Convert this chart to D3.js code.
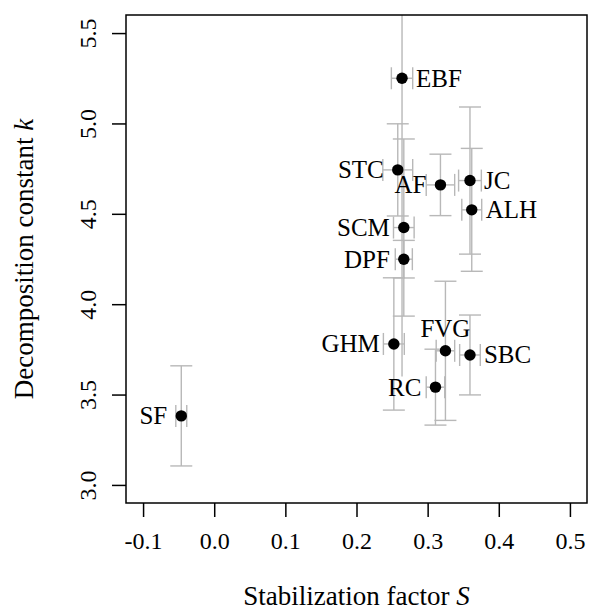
<!DOCTYPE html>
<html>
<head>
<meta charset="utf-8">
<script src="https://cdn.jsdelivr.net/npm/d3@7"></script>
<style>
  body { margin: 0; background: #fff; }
  svg text { font-family: "Liberation Serif", "Times New Roman", serif; fill: #000; }
</style>
</head>
<body>
<svg id="chart" width="589" height="610"></svg>
<script>
// site codes, stabilization factor S, decomposition constant k and their errors
const sites = ['EBF', 'STC', 'AF', 'JC', 'ALH', 'SCM', 'DPF', 'GHM', 'FVG', 'SBC', 'RC', 'SF'];
const sVals = [0.264, 0.258, 0.318, 0.3595, 0.362, 0.2665, 0.2665, 0.2525, 0.325, 0.3595, 0.311, -0.0463];
const sErr  = [0.015, 0.021, 0.020, 0.016, 0.014, 0.0145, 0.012, 0.0147, 0.013, 0.0145, 0.013, 0.0077];
const kVals = [5.25, 4.743, 4.66, 4.684, 4.522, 4.424, 4.249, 3.78, 3.742, 3.719, 3.541, 3.382];
const kErr  = [1.65, 0.255, 0.17, 0.407, 0.34, 0.49, 0.104, 0.366, 0.385, 0.221, 0.21, 0.277];
const labelPos = ['right', 'left', 'left', 'right', 'right', 'left', 'left', 'left', 'top', 'right', 'left', 'left'];

const xTicks = [-0.1, 0.0, 0.1, 0.2, 0.3, 0.4, 0.5];
const yTicks = [3.0, 3.5, 4.0, 4.5, 5.0, 5.5];

const margin = {top: 15, right: 2, bottom: 107, left: 126};
const W = 589, H = 610;
const width = W - margin.left - margin.right;
const height = H - margin.top - margin.bottom;

const grey = '#b8b8b8';
const capHalf = 11;

const svg = d3.select('#chart');
const g = svg.append('g')
  .attr('transform', 'translate(' + margin.left + ',' + margin.top + ')');

// R style 4% extension of the limits
const x = d3.scaleLinear().domain([-0.124, 0.524]).range([0, width]);
const y = d3.scaleLinear().domain([2.9, 5.6]).range([height, 0]);

const data = sites.map(function(s, i) {
  return {name: s, s: sVals[i], se: sErr[i], k: kVals[i], ke: kErr[i], pos: labelPos[i]};
});

g.append('clipPath').attr('id', 'plotclip')
  .append('rect').attr('width', width).attr('height', height);

const bars = g.append('g').attr('clip-path', 'url(#plotclip)')
  .attr('stroke', grey).attr('stroke-width', 1.4).attr('fill', 'none');

const [y0, y1] = y.domain();

data.forEach(function(d) {
  const cx = x(d.s), cy = y(d.k);
  const top = d.k + d.ke, bot = d.k - d.ke;
  // vertical error bar
  bars.append('line').attr('x1', cx).attr('x2', cx).attr('y1', y(top)).attr('y2', y(bot));
  if (top <= y1 && bot >= y0) {
    [top, bot].forEach(function(v) {
      bars.append('line').attr('x1', cx - capHalf).attr('x2', cx + capHalf)
        .attr('y1', y(v)).attr('y2', y(v));
    });
  }
  // horizontal error bar
  const l = x(d.s - d.se), r = x(d.s + d.se);
  bars.append('line').attr('x1', l).attr('x2', r).attr('y1', cy).attr('y2', cy);
  [l, r].forEach(function(v) {
    bars.append('line').attr('x1', v).attr('x2', v)
      .attr('y1', cy - capHalf).attr('y2', cy + capHalf);
  });
});

// points
g.selectAll('circle.pt')
  .data(data)
  .enter().append('circle')
  .attr('class', 'pt')
  .attr('cx', function(d) { return x(d.s); })
  .attr('cy', function(d) { return y(d.k); })
  .attr('r', 5.7)
  .attr('fill', '#000');

// labels
const off = 14;
g.selectAll('text.lab')
  .data(data)
  .enter().append('text')
  .attr('class', 'lab')
  .style('font-size', '25px')
  .attr('x', function(d) {
    if (d.pos === 'right') return x(d.s) + off;
    if (d.pos === 'left') return x(d.s) - off;
    return x(d.s);
  })
  .attr('y', function(d) { return d.pos === 'top' ? y(d.k) - off : y(d.k); })
  .attr('dy', function(d) { return d.pos === 'top' ? '0em' : '0.34em'; })
  .attr('text-anchor', function(d) {
    return d.pos === 'right' ? 'start' : (d.pos === 'left' ? 'end' : 'middle');
  })
  .text(function(d) { return d.name; });

// box
g.append('rect')
  .attr('width', width).attr('height', height)
  .attr('fill', 'none').attr('stroke', '#000').attr('stroke-width', 1.5);

// x axis
const xAxis = g.append('g')
  .attr('transform', 'translate(0,' + height + ')')
  .call(d3.axisBottom(x).tickValues(xTicks).tickSize(14).tickPadding(15)
    .tickFormat(d3.format('.1f')));
xAxis.select('.domain').remove();
xAxis.selectAll('line').attr('stroke-width', 1.5);
xAxis.selectAll('text').style('font-size', '24px')
  .style('font-family', '"Liberation Serif", serif')
  .text(function(d) { return d < 0 ? '-' + Math.abs(d).toFixed(1) : d.toFixed(1); });

// y axis, labels rotated like R's las = 0
const yAxis = g.append('g')
  .call(d3.axisLeft(y).tickValues(yTicks).tickSize(14).tickFormat(d3.format('.1f')));
yAxis.select('.domain').remove();
yAxis.selectAll('line').attr('stroke-width', 1.5);
yAxis.selectAll('text')
  .style('font-size', '24px')
  .style('font-family', '"Liberation Serif", serif')
  .attr('x', null).attr('dy', null)
  .attr('text-anchor', 'middle')
  .attr('transform', 'translate(-30,0) rotate(-90)');

// axis titles
const xt = svg.append('text')
  .attr('x', margin.left + width / 2)
  .attr('y', 605)
  .attr('text-anchor', 'middle')
  .style('font-size', '27px');
xt.append('tspan').text('Stabilization factor ');
xt.append('tspan').style('font-style', 'italic').text('S');

const yt = svg.append('text')
  .attr('transform', 'translate(33,' + (margin.top + height / 2) + ') rotate(-90)')
  .attr('text-anchor', 'middle')
  .style('font-size', '27px');
yt.append('tspan').text('Decomposition constant ');
yt.append('tspan').style('font-style', 'italic').text('k');
</script>
</body>
</html>
